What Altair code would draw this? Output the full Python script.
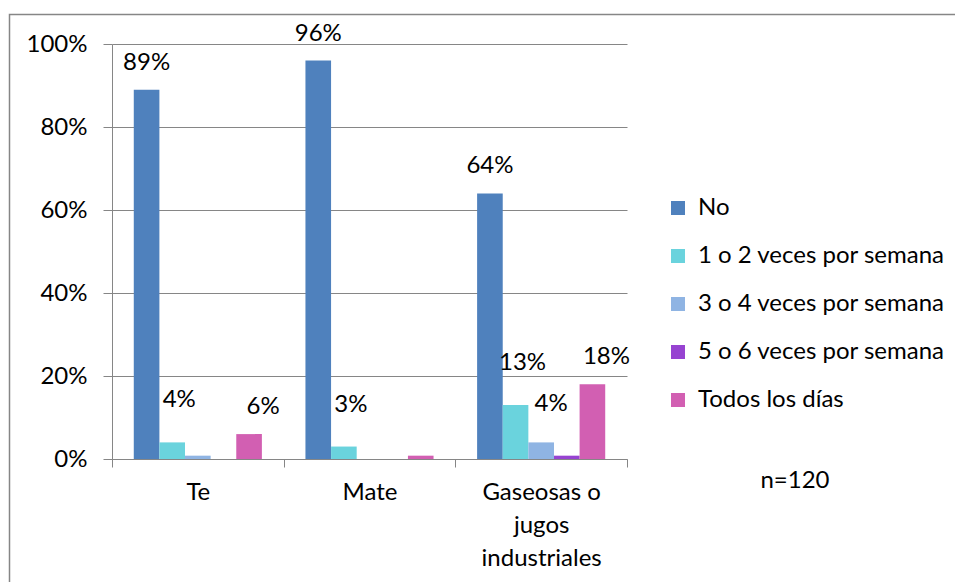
import altair as alt
import pandas as pd

# Beverage consumption frequency by drink type (n=120)
categories = ["Te", "Mate", "Gaseosas o jugos industriales"]
series = [
    "No",
    "1 o 2 veces por semana",
    "3 o 4 veces por semana",
    "5 o 6 veces por semana",
    "Todos los días",
]
te = [0.89, 0.04, 0.008, 0.0, 0.06]
mate = [0.96, 0.03, 0.0, 0.0, 0.008]
gaseosas = [0.64, 0.13, 0.04, 0.008, 0.18]
colors = ["#4F81BD", "#6AD3DD", "#8FB4E3", "#9743D1", "#D25FB2"]
y_ticks = [0, 0.2, 0.4, 0.6, 0.8, 1.0]
note = "n=120"

rows = []
for cat, vals in zip(categories, [te, mate, gaseosas]):
    for s, v in zip(series, vals):
        rows.append({"categoria": cat, "serie": s, "valor": v})
df = pd.DataFrame(rows)

FONT = "Lato"
FS = 24
GREY = "#868686"
W, H = 515, 415
LEFT, TOP = 112, 44

x_enc = alt.X(
    "categoria:N",
    sort=categories,
    scale=alt.Scale(domain=categories, paddingInner=0, paddingOuter=0),
    axis=alt.Axis(
        title=None,
        labelAngle=0,
        tickBand="extent",
        tickSize=8,
        tickColor=GREY,
        domainColor=GREY,
        labelFont=FONT,
        labelFontSize=FS,
        labelColor="black",
        labelPadding=13,
        labelLineHeight=33,
        labelExpr="datum.value == 'Gaseosas o jugos industriales' ? ['Gaseosas o', 'jugos', 'industriales'] : datum.label",
    ),
)
xoff_enc = alt.XOffset(
    "serie:N",
    sort=series,
    scale=alt.Scale(domain=series, paddingInner=0, paddingOuter=0.85),
)
y_enc = alt.Y(
    "valor:Q",
    scale=alt.Scale(domain=[0, 1]),
    axis=alt.Axis(
        title=None,
        values=y_ticks,
        format=".0%",
        tickSize=9,
        tickColor=GREY,
        domainColor=GREY,
        gridColor=GREY,
        labelFont=FONT,
        labelFontSize=FS,
        labelColor="black",
        labelPadding=16,
    ),
)

bars = alt.Chart(df).mark_bar().encode(
    x=x_enc,
    xOffset=xoff_enc,
    y=y_enc,
    color=alt.Color(
        "serie:N",
        sort=series,
        scale=alt.Scale(domain=series, range=colors),
        legend=alt.Legend(
            title=None,
            orient="none",
            legendX=554,
            legendY=152,
            symbolType="square",
            symbolSize=196,
            symbolStrokeWidth=0,
            labelFont=FONT,
            labelFontSize=FS,
            labelColor="black",
            labelOffset=8,
            labelLimit=0,
            rowPadding=24,
            padding=0,
        ),
    ),
)

# value labels, nudged per series the way they sit above the bars
label_shift = {
    "No": (0, -27),
    "1 o 2 veces por semana": (7, -42),
    "3 o 4 veces por semana": (10, -38),
    "5 o 6 veces por semana": (0, -27),
    "Todos los días": (14, -27),
}
label_layers = []
for s in series:
    dx, dy = label_shift[s]
    label_layers.append(
        alt.Chart(df)
        .transform_filter((alt.datum.serie == s) & (alt.datum.valor >= 0.02))
        .mark_text(font=FONT, fontSize=FS, color="black", baseline="middle", dx=dx, dy=dy)
        .encode(
            x=alt.X("categoria:N", sort=categories),
            xOffset=alt.XOffset("serie:N", sort=series),
            y="valor:Q",
            text=alt.Text("valor:Q", format=".0%"),
        )
    )

note_text = alt.Chart(alt.Data(values=[{"t": note}])).mark_text(
    font=FONT, fontSize=FS, color="black", align="center", baseline="middle"
).encode(x=alt.value(683), y=alt.value(437), text="t:N")

frame = alt.Chart(alt.Data(values=[{"f": 1}])).mark_rect(
    fill=None, stroke=GREY, strokeWidth=1.5
).encode(
    x=alt.value(-102.5),
    x2=alt.value(870),
    y=alt.value(-29.5),
    y2=alt.value(560),
)

chart = (
    alt.layer(frame, bars, *label_layers, note_text)
    .properties(
        width=W,
        height=H,
        autosize=alt.AutoSizeParams(type="none"),
        padding={"left": LEFT, "top": TOP, "right": 955 - LEFT - W, "bottom": 582 - TOP - H},
        background="white",
    )
    .configure_view(stroke=None)
)

chart.save("out.html", embed_options={"renderer": "svg", "actions": False})
